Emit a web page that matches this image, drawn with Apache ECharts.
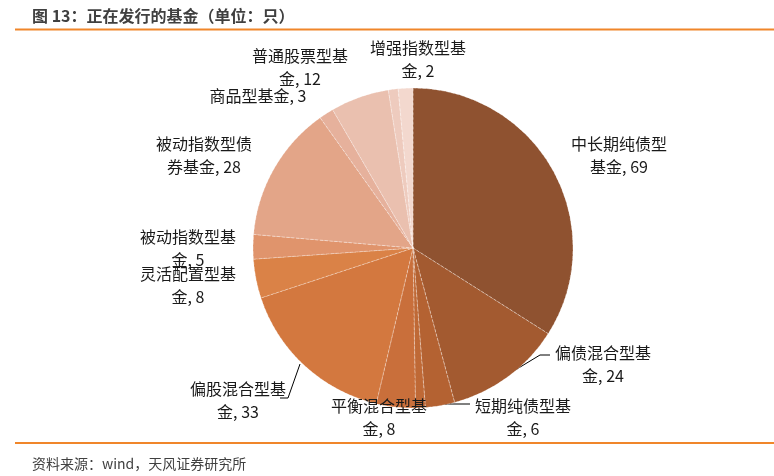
<!DOCTYPE html>
<html><head><meta charset="utf-8">
<script src="https://cdn.jsdelivr.net/npm/echarts@6/dist/echarts.min.js"></script>
<style>html,body{margin:0;padding:0;background:#fff}#c{width:774px;height:476px}</style>
</head><body><div id="c"></div>
<script>
// Data (clockwise from 12 o'clock); two thin slices carry no label in the reference
const categories = ['中长期纯债型基金','偏债混合型基金','短期纯债型基金','','平衡混合型基金','偏股混合型基金','灵活配置型基金','被动指数型基金','被动指数型债券基金','商品型基金','普通股票型基金','增强指数型基金',' '];
const values = [69,24,6,2,8,33,8,5,28,3,12,2,3];
const labelled = [true,true,true,false,true,true,true,true,true,true,true,true,false];

// Styles / layout
const colors = ['#8F5230','#A35A30','#B46232','#BF6936','#C96F3B','#D3783F','#DA8247','#E0946C','#E3A588','#E6B19C','#EAC0AF','#EECBBE','#F3D8CE'];
const labelPos = [[619,155],[603,364],[523,417],null,[379,417],[238,400],[188,285],[188,248],[204,155],[258,96],[300,67],[418,59],null];
const leaderLines = {1: [[507,375],[540,355],[550,355]], 2: [[440,404],[455,404],[470,404]], 5: [[300,364],[288,398],[280,398]]};

const chart = echarts.init(document.getElementById('c'), null, {renderer:'canvas'});
const data = categories.map((n,i)=>({
  name:n, value:values[i],
  itemStyle:{color:colors[i]},
  label:{show:labelled[i]},
  labelLine:{show:!!leaderLines[i]}
}));
chart.setOption({
  animation:false,
  title:[
    {text:'图 13：正在发行的基金（单位：只）', left:27, top:3,
     textStyle:{fontSize:16, fontWeight:'bold', color:'#404040', fontFamily:'Noto Sans CJK SC'}},
    {text:'资料来源：wind，天风证券研究所', left:27, top:452,
     textStyle:{fontSize:14, fontWeight:'normal', color:'#404040', fontFamily:'Noto Sans CJK SC'}}
  ],
  graphic:[
    {type:'line', shape:{x1:15,y1:29.5,x2:774,y2:29.5}, style:{stroke:'#F0862A', lineWidth:2}},
    {type:'line', shape:{x1:15,y1:443,x2:774,y2:443}, style:{stroke:'#F0862A', lineWidth:2}}
  ],
  series:[{
    type:'pie',
    center:[413,248],
    radius:160,
    startAngle:90,
    clockwise:true,
    avoidLabelOverlap:false,
    emphasis:{disabled:true},
    itemStyle:{borderColor:'rgba(255,255,255,0.45)', borderWidth:0.8, borderType:'dashed'},
    label:{
      position:'outside',
      fontSize:16, lineHeight:23, color:'#1a1a1a', fontFamily:'Noto Sans CJK SC',
      align:'center',
      formatter:p=>{
        const n=p.name;
        const t = n.length>6 ? n.slice(0,6)+'\n'+n.slice(6) : n;
        return t+', '+p.value;
      }
    },
    labelLine:{show:true, lineStyle:{color:'#000', width:1}},
    labelLayout:function(params){
      const i=params.dataIndex;
      const pos=labelPos[i];
      if(!pos) return {};
      const r={x:pos[0], y:pos[1], align:'center', verticalAlign:'middle'};
      if(leaderLines[i]) r.labelLinePoints=leaderLines[i];
      return r;
    },
    data:data
  }]
});
</script></body></html>
